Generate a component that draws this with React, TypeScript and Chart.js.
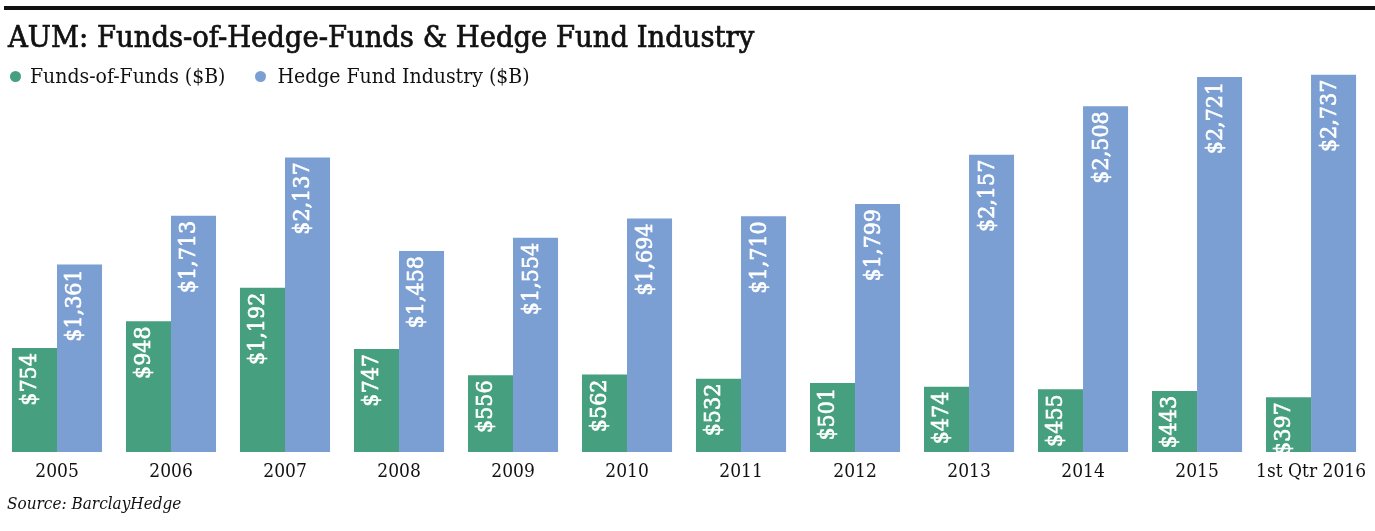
import React, { useEffect, useRef } from "react";
import { Chart, registerables } from "chart.js";

Chart.register(...registerables);

const categories = ["2005", "2006", "2007", "2008", "2009", "2010", "2011", "2012", "2013", "2014", "2015", "1st Qtr 2016"];
const fundsOfFunds = [754, 948, 1192, 747, 556, 562, 532, 501, 474, 455, 443, 397];
const hedgeFundIndustry = [1361, 1713, 2137, 1458, 1554, 1694, 1710, 1799, 2157, 2508, 2721, 2737];
const seriesNames = ["Funds-of-Funds ($B)", "Hedge Fund Industry ($B)"];
const titleText = "AUM: Funds-of-Hedge-Funds & Hedge Fund Industry";
const sourceText = "Source: BarclayHedge";

const GREEN = "#46A080";
const BLUE = "#7B9FD3";
const SERIF = "'DejaVu Serif Condensed', 'DejaVu Serif', serif";

const fmt = (v: number) => "$" + v.toLocaleString("en-US");

const labelPlugin = {
  id: "barLabels",
  afterDatasetsDraw(chart: any) {
    const ctx = chart.ctx;
    ctx.save();
    ctx.fillStyle = "#ffffff";
    ctx.strokeStyle = "#ffffff";
    ctx.lineWidth = 0.6;
    ctx.font = `23px ${SERIF}`;
    ctx.textAlign = "right";
    ctx.textBaseline = "middle";
    chart.data.datasets.forEach((ds: any, di: number) => {
      const meta = chart.getDatasetMeta(di);
      meta.data.forEach((el: any, i: number) => {
        const v = ds.data[i];
        ctx.save();
        ctx.translate(el.x - 4, el.y + 5);
        ctx.rotate(-Math.PI / 2);
        ctx.fillText(fmt(v), 0, 0);
        ctx.strokeText(fmt(v), 0, 0);
        ctx.restore();
      });
    });
    ctx.restore();
  },
};

export default function App() {
  const ref = useRef<HTMLCanvasElement>(null);
  useEffect(() => {
    if (!ref.current) return;
    const chart = new Chart(ref.current, {
      type: "bar",
      data: {
        labels: categories,
        datasets: [
          { label: seriesNames[0], data: fundsOfFunds, backgroundColor: GREEN, categoryPercentage: 0.79, barPercentage: 1 },
          { label: seriesNames[1], data: hedgeFundIndustry, backgroundColor: BLUE, categoryPercentage: 0.79, barPercentage: 1 },
        ],
      },
      options: {
        responsive: false,
        animation: false,
        layout: { padding: { top: 66, bottom: 40, left: 0, right: 0 } },
        plugins: { legend: { display: false }, tooltip: { enabled: false }, title: { display: false } },
        scales: {
          x: {
            grid: { display: false, drawTicks: false },
            border: { display: false },
            ticks: { color: "#111", font: { family: SERIF, size: 19 }, padding: 9, maxRotation: 0, autoSkip: false },
            afterFit: (s: any) => { s.height = 39; },
          },
          y: { display: false, min: 0, max: 2800 },
        },
      },
      plugins: [labelPlugin],
    });
    return () => chart.destroy();
  }, []);

  return (
    <div style={{ position: "absolute", left: 0, top: 0, width: 1375, height: 531, background: "#fff", fontFamily: SERIF }}>
      <canvas ref={ref} width={1375} height={531} style={{ position: "absolute", left: 0, top: 0 }} />
      <div style={{ position: "absolute", left: 4, top: 6, width: 1371, height: 4, background: "#111" }} />
      <div style={{ position: "absolute", left: 8, top: 19, fontSize: 30.5, fontWeight: 400, WebkitTextStroke: "0.7px #111", color: "#111", whiteSpace: "nowrap" }}>{titleText}</div>
      <div style={{ position: "absolute", left: 10, top: 64, fontSize: 21, color: "#111", display: "flex", alignItems: "center", whiteSpace: "nowrap" }}>
        <span style={{ display: "inline-block", width: 11, height: 11, borderRadius: 6, background: GREEN, marginRight: 9 }} />
        <span>{seriesNames[0]}</span>
        <span style={{ display: "inline-block", width: 11, height: 11, borderRadius: 6, background: BLUE, marginLeft: 30, marginRight: 11 }} />
        <span>{seriesNames[1]}</span>
      </div>
      <div style={{ position: "absolute", left: 7, top: 493, fontSize: 17, fontStyle: "italic", color: "#111", whiteSpace: "nowrap" }}>{sourceText}</div>
    </div>
  );
}
